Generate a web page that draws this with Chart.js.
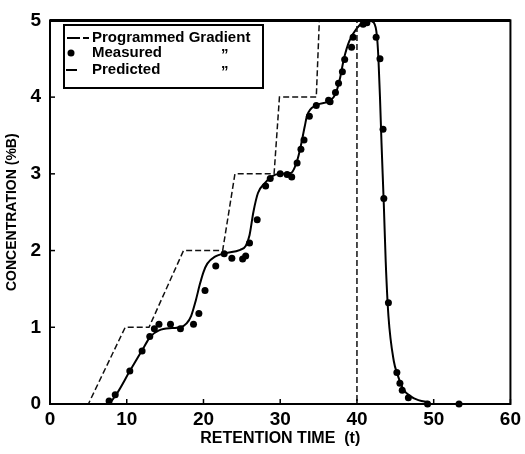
<!DOCTYPE html>
<html><head><meta charset="utf-8">
<script src="https://cdn.jsdelivr.net/npm/chart.js@4/dist/chart.umd.min.js"></script>
<style>html,body{margin:0;padding:0;background:#fff}</style>
</head><body>
<canvas id="c" width="525" height="454"></canvas>
<script>
// Programmed gradient (dashed)
const gradientX = [0, 5, 9.8, 12.9, 17.4, 22.5, 24.1, 29.2, 29.9, 34.7, 35.1, 40, 40, 60];
const gradientY = [0, 0, 1, 1, 2, 2, 3, 3, 4, 4, 5, 5, 0, 0];
// Measured (dots)
const measuredX = [7.7, 8.5, 10.4, 12.0, 13.0, 13.6, 14.2, 15.7, 17.0, 18.7, 19.4, 20.2, 21.6, 22.7, 23.7, 25.1, 25.5, 26.0, 27.0, 28.1, 28.7, 30.0, 30.9, 31.5, 32.2, 32.7, 33.1, 33.8, 34.7, 36.3, 36.5, 37.2, 37.6, 38.1, 38.4, 39.3, 39.5, 40.8, 41.3, 42.5, 43.0, 43.4, 43.5, 44.1, 45.2, 45.6, 45.9, 46.7, 49.2, 53.3];
const measuredY = [0.04, 0.12, 0.43, 0.69, 0.88, 0.98, 1.04, 1.04, 0.98, 1.04, 1.18, 1.48, 1.80, 1.96, 1.90, 1.89, 1.93, 2.10, 2.40, 2.84, 2.94, 3.00, 2.99, 2.96, 3.14, 3.32, 3.44, 3.75, 3.89, 3.96, 3.94, 4.06, 4.18, 4.33, 4.49, 4.65, 4.78, 4.95, 4.97, 4.78, 4.50, 3.58, 2.68, 1.32, 0.41, 0.27, 0.18, 0.08, 0.0, 0.0];
// Predicted (solid curve)
const predictedX = [0, 7.5, 8.6, 10.4, 12, 13.1, 14.2, 15.9, 17, 17.8, 18.4, 19, 19.5, 20, 20.5, 21.5, 22.6, 24.8, 25.5, 26, 26.5, 27.1, 28, 28.8, 30, 31.4, 32, 32.5, 33.2, 33.5, 34.6, 36.4, 37.2, 37.8, 38.3, 39, 40, 40.9, 41.5, 42.2, 42.6, 42.8, 43, 43.2, 43.5, 43.75, 44.1, 44.8, 45.3, 46, 47, 48, 49.5];
const predictedY = [0, 0, 0.12, 0.43, 0.7, 0.88, 0.96, 0.99, 1.0, 1.05, 1.15, 1.35, 1.55, 1.72, 1.83, 1.92, 1.96, 2.01, 2.06, 2.2, 2.5, 2.75, 2.88, 2.96, 3.0, 3.01, 3.11, 3.28, 3.62, 3.76, 3.89, 3.95, 4.04, 4.25, 4.5, 4.73, 4.9, 4.98, 5.0, 4.97, 4.8, 4.5, 4.0, 3.4, 2.6, 1.85, 1.15, 0.56, 0.38, 0.2, 0.1, 0.05, 0.02];
const xTicks = [0, 10, 20, 30, 40, 50, 60];
const yTicks = [0, 1, 2, 3, 4, 5];
const seriesLabels = ['Programmed Gradient', 'Measured', 'Predicted'];

const toPts = (xs, ys) => xs.map((x, i) => ({x: x, y: ys[i]}));
const FONT = '"Liberation Sans", Arial, Helvetica, sans-serif';

const frameTicks = {
  id: 'frameTicks',
  afterDatasetsDraw(chart) {
    const {ctx, chartArea: a, scales} = chart;
    ctx.save();
    ctx.strokeStyle = '#000';
    ctx.setLineDash([]);
    ctx.lineWidth = 2;
    ctx.strokeRect(a.left, a.top, a.right - a.left, a.bottom - a.top);
    ctx.lineWidth = 3;
    ctx.beginPath(); ctx.moveTo(a.left, a.top); ctx.lineTo(a.right, a.top); ctx.stroke();
    ctx.lineWidth = 1.5;
    xTicks.forEach(v => {
      const px = scales.x.getPixelForValue(v);
      ctx.beginPath(); ctx.moveTo(px, a.bottom); ctx.lineTo(px, a.bottom - 5); ctx.stroke();
    });
    yTicks.forEach(v => {
      const py = scales.y.getPixelForValue(v);
      ctx.beginPath(); ctx.moveTo(a.left, py); ctx.lineTo(a.left + 5, py); ctx.stroke();
    });
    ctx.restore();
  }
};

const legendBox = {
  id: 'legendBox',
  afterDraw(chart) {
    const ctx = chart.ctx;
    const labels = chart.data.datasets.map(d => d.label);
    ctx.save();
    ctx.fillStyle = '#fff';
    ctx.fillRect(64, 25, 199, 63);
    ctx.strokeStyle = '#000';
    ctx.lineWidth = 2;
    ctx.setLineDash([]);
    ctx.strokeRect(64, 25, 199, 63);
    ctx.fillStyle = '#000';
    ctx.font = 'bold 15px ' + FONT;
    ctx.textBaseline = 'middle';
    ctx.textAlign = 'left';
    // Programmed gradient marker
    ctx.beginPath(); ctx.moveTo(67, 38); ctx.lineTo(80, 38); ctx.stroke();
    ctx.beginPath(); ctx.moveTo(83, 38); ctx.lineTo(89, 38); ctx.stroke();
    ctx.fillText(labels[0], 92, 38);
    // Measured marker
    ctx.beginPath(); ctx.arc(71, 53, 3.5, 0, Math.PI * 2); ctx.fill();
    ctx.fillText(labels[1], 92, 53);
    ctx.fillText('\u201D', 221, 55);
    // Predicted marker
    ctx.beginPath(); ctx.moveTo(66, 70); ctx.lineTo(77, 70); ctx.stroke();
    ctx.fillText(labels[2], 92, 70);
    ctx.fillText('\u201D', 221, 72);
    ctx.restore();
  }
};

new Chart(document.getElementById('c'), {
  type: 'scatter',
  data: {
    datasets: [
      {label: seriesLabels[0], data: toPts(gradientX, gradientY), showLine: true,
       borderColor: '#111', borderWidth: 1.5, borderDash: [6, 3], pointRadius: 0, tension: 0, clip: 4},
      {label: seriesLabels[1], data: toPts(measuredX, measuredY), showLine: false,
       backgroundColor: '#000', borderColor: '#000', pointRadius: 3.5, pointBorderWidth: 0, clip: 6},
      {label: seriesLabels[2], data: toPts(predictedX, predictedY), showLine: true,
       borderColor: '#000', borderWidth: 2, pointRadius: 0, cubicInterpolationMode: 'monotone', clip: 4}
    ]
  },
  options: {
    responsive: false,
    animation: false,
    devicePixelRatio: 1,
    layout: {padding: {top: 9, right: 10, left: 0, bottom: 0}},
    plugins: {legend: {display: false}, tooltip: {enabled: false}},
    scales: {
      x: {
        type: 'linear', min: 0, max: 60,
        afterFit: s => { s.height = 50; },
        afterBuildTicks: s => { s.ticks = xTicks.map(v => ({value: v})); },
        grid: {display: false, drawTicks: false},
        border: {display: false},
        ticks: {color: '#000', padding: 4, font: {family: FONT, size: 19, weight: 'bold'}},
        title: {display: true, text: 'RETENTION TIME  (t)', color: '#000',
                font: {family: FONT, size: 16, weight: 'bold'}, padding: {top: 0, bottom: 6}}
      },
      y: {
        type: 'linear', min: 0, max: 5,
        afterFit: s => { s.width = 50; },
        afterBuildTicks: s => { s.ticks = yTicks.map(v => ({value: v})); },
        grid: {display: false, drawTicks: false},
        border: {display: false},
        ticks: {color: '#000', padding: 9, font: {family: FONT, size: 19, weight: 'bold'}},
        title: {display: true, text: 'CONCENTRATION (%B)', color: '#000',
                font: {family: FONT, size: 14, weight: 'bold'}, padding: {top: 4, bottom: 0}}
      }
    }
  },
  plugins: [frameTicks, legendBox]
});
</script>
</body></html>
